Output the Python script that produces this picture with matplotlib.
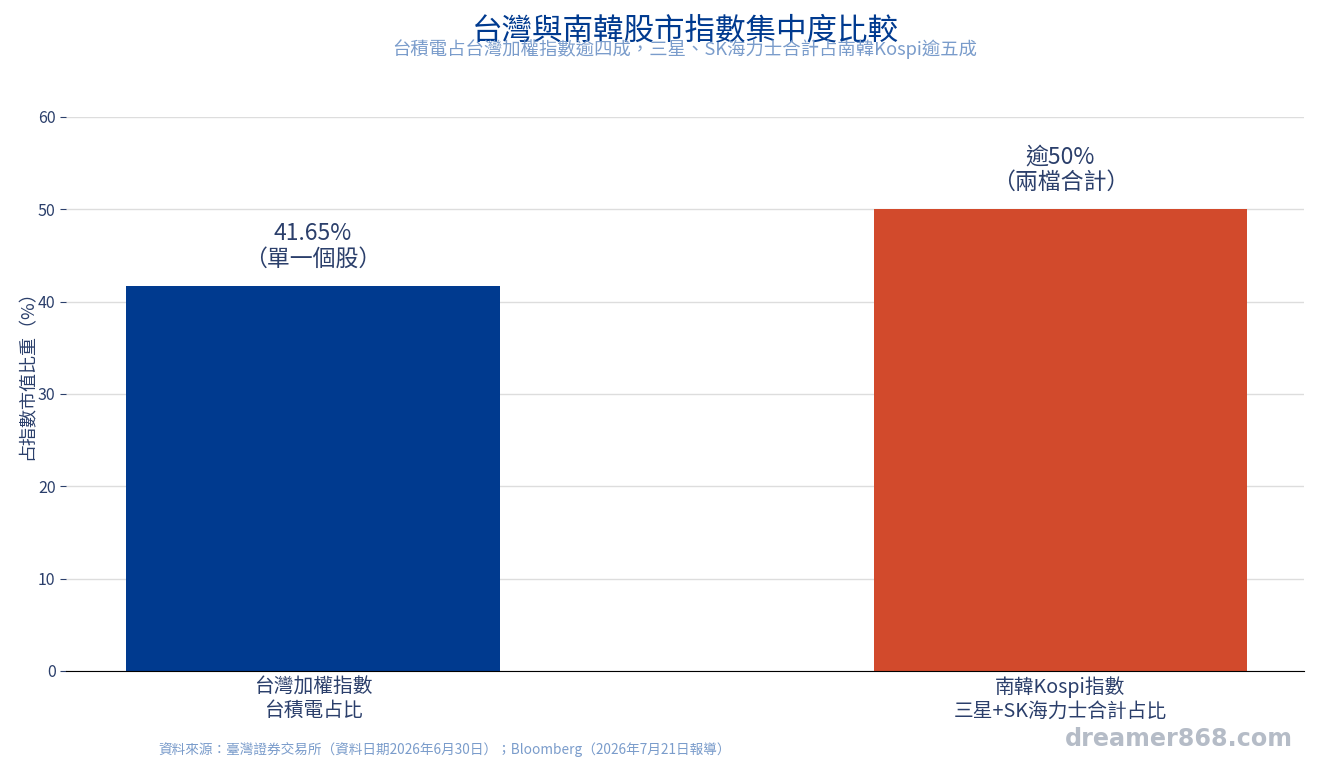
import matplotlib
matplotlib.use("Agg")
import matplotlib.pyplot as plt

plt.rcParams['font.family'] = ['Noto Sans CJK TC', 'DejaVu Sans']

categories = ['台灣加權指數\n台積電占比', '南韓Kospi指數\n三星+SK海力士合計占比']
values = [41.65, 50]
labels = ['41.65%\n（單一個股）', '逾50%\n（兩檔合計）']
colors = ['#003A8F', '#D24A2C']

text_c = '#2B3F6B'

fig = plt.figure(figsize=(13.2, 7.7), dpi=100)
ax = fig.add_axes([0.05, 0.1286, 0.9379, 0.7195])

x = list(range(len(categories)))
bars = ax.bar(x, values, width=0.5, color=colors, zorder=3)
for b, lab in zip(bars, labels):
    ax.annotate(lab, (b.get_x() + b.get_width() / 2, b.get_height()),
                xytext=(0, 11), textcoords='offset points',
                ha='center', va='bottom', fontsize=16.5, color=text_c,
                linespacing=1.15)

ax.set_xlim(-0.3304, 1.3258)
ax.set_ylim(0, 60)
ax.set_yticks(range(0, 61, 10))
ax.set_xticks(x)
ax.set_xticklabels(categories, fontsize=14.2, color=text_c, linespacing=1.15)
ax.tick_params(axis='x', length=0, pad=4)
ax.tick_params(axis='y', labelsize=11.5, labelcolor=text_c, color=text_c, length=4)
ax.grid(axis='y', color='#DDDDDD', linewidth=1, zorder=0)
for s in ['top', 'right', 'left']:
    ax.spines[s].set_visible(False)
ax.spines['bottom'].set_color('black')
ax.spines['bottom'].set_zorder(4)
ax.set_ylabel('占指數市值比重（%）', fontsize=13, color=text_c)
ax.yaxis.set_label_coords(-0.024, 0.542)

cx = 0.05 + 0.9379 / 2
fig.text(cx, 0.960, '台灣與南韓股市指數集中度比較', ha='center', va='center',
         fontsize=22, color='#003A8F')
fig.text(cx, 0.936, '台積電占台灣加權指數逾四成，三星、SK海力士合計占南韓Kospi逾五成',
         ha='center', va='center', fontsize=13.2, color='#7A9CCB')
fig.text(0.12, 0.026, '資料來源：臺灣證券交易所（資料日期2026年6月30日）；Bloomberg（2026年7月21日報導）',
         ha='left', va='center', fontsize=9.85, color='#7A9CCB')
fig.text(0.9795, 0.04, 'dreamer868.com', ha='right', va='center',
         fontsize=17.2, fontweight='bold', color='#B5BCC7', family=['DejaVu Sans'])

fig.savefig('out.png', dpi=100)
